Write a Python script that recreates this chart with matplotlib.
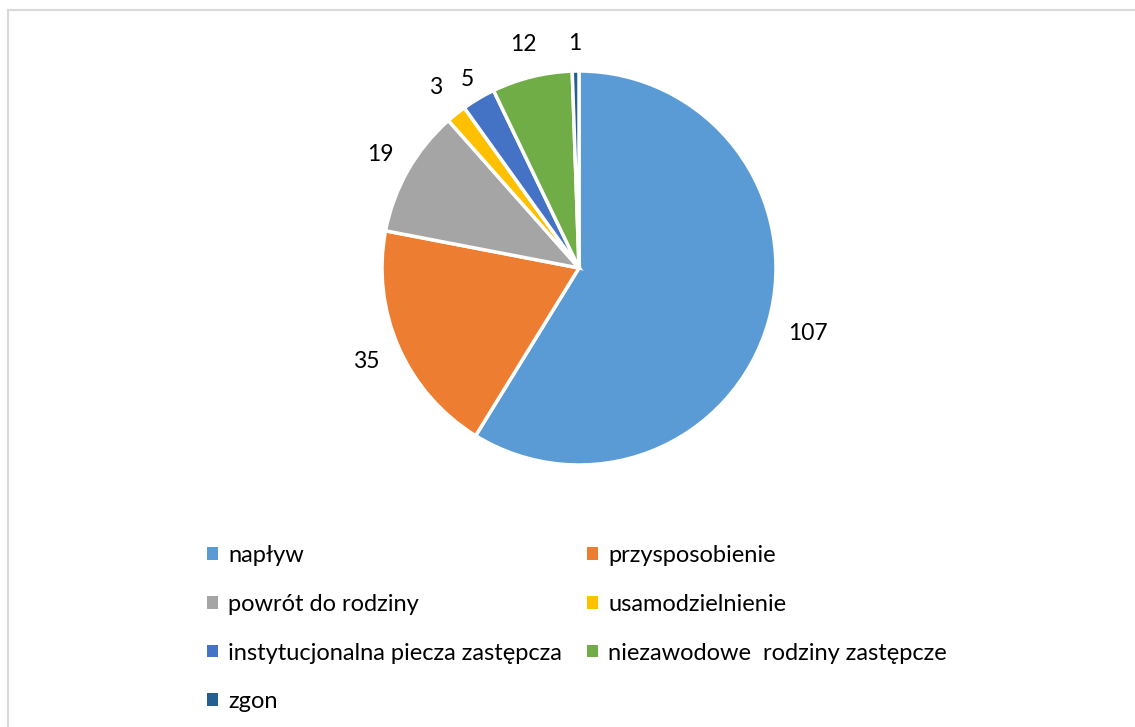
import numpy as np
import matplotlib.pyplot as plt
from matplotlib.patches import Patch, Rectangle

categories = ["napływ", "przysposobienie", "powrót do rodziny", "usamodzielnienie",
              "instytucjonalna piecza zastępcza", "niezawodowe  rodziny zastępcze", "zgon"]
values = [107, 35, 19, 3, 5, 12, 1]
colors = ["#5B9BD5", "#ED7D31", "#A5A5A5", "#FFC000", "#4472C4", "#70AD47", "#255E91"]
# distance of each value label from centre (in radii), as placed in the original
label_r = [1.21, 1.18, 1.16, 1.17, 1.11, 1.17, 1.14]

plt.rcParams['font.family'] = ['Lato', 'DejaVu Sans']

W, H = 1135, 727
fig = plt.figure(figsize=(W / 100, H / 100), dpi=100)

# outer chart frame (cut by the image edges)
fig.patches.append(Rectangle((7.5 / W, -0.05), 1.1, 1 - 9.5 / H + 0.05, transform=fig.transFigure,
                             fill=False, edgecolor="#D9D9D9", linewidth=1.5))

cx, cy, r = 579, 268, 197
ax = fig.add_axes([(cx - r) / W, (H - cy - r) / H, 2 * r / W, 2 * r / H])
wedges, _ = ax.pie(values, colors=colors, startangle=90, counterclock=False,
                   wedgeprops=dict(edgecolor="white", linewidth=2.5))
for w, v, d in zip(wedges, values, label_r):
    ang = np.deg2rad((w.theta1 + w.theta2) / 2)
    ax.text(d * np.cos(ang), d * np.sin(ang), str(v), ha="center", va="center",
            fontsize=16.5, color="#000000")
ax.set_xlim(-1, 1)
ax.set_ylim(-1, 1)
ax.set_aspect("equal")

order = [0, 2, 4, 6, 1, 3, 5]
handles = [Patch(facecolor=colors[i], edgecolor="none", label=categories[i]) for i in order]
fig.legend(handles=handles, loc="upper left", bbox_to_anchor=(186 / W, 1 - 524 / H),
           ncol=2, frameon=False, fontsize=17, handlelength=0.45, handleheight=0.45,
           handletextpad=0.45, columnspacing=1.05, labelspacing=1.17)

fig.savefig("out.png", dpi=100)
